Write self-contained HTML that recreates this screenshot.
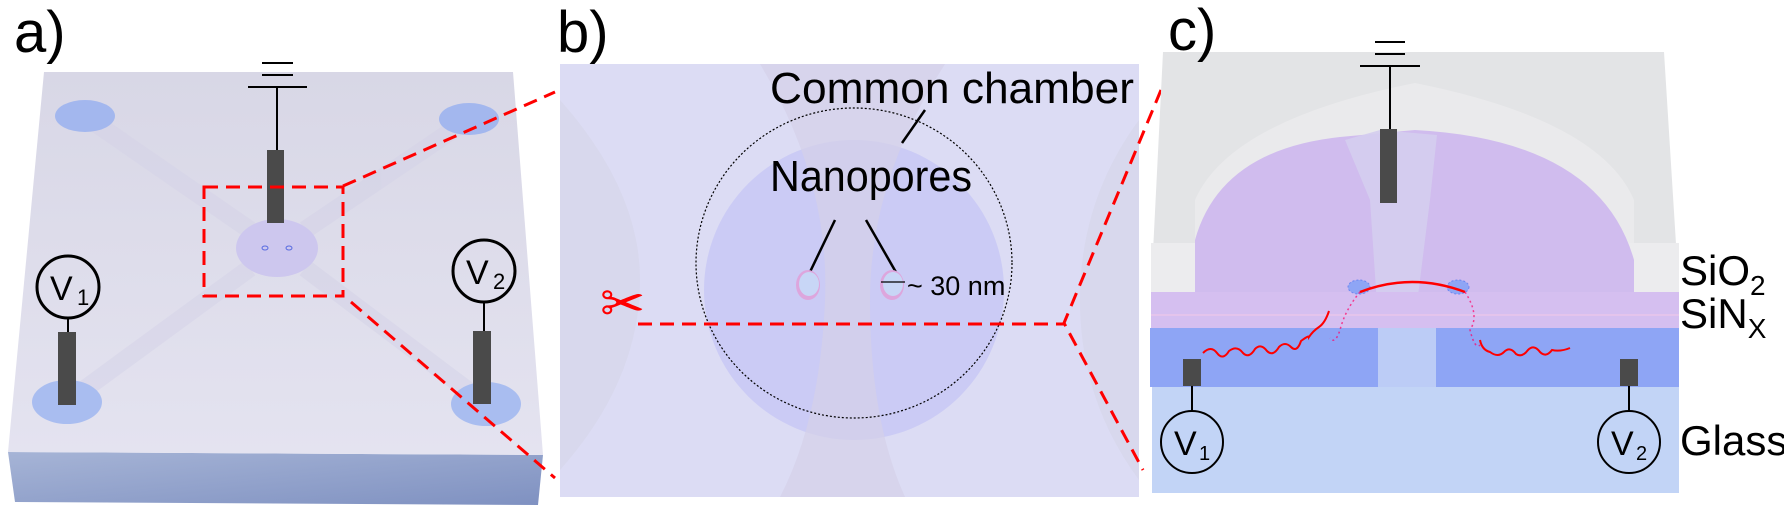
<!DOCTYPE html>
<html><head><meta charset="utf-8"><style>
html,body{margin:0;padding:0;background:#fff;}
svg{display:block;}
text{font-family:"Liberation Sans",sans-serif;fill:#000;}
</style></head><body>
<svg width="1784" height="514" viewBox="0 0 1784 514" xmlns="http://www.w3.org/2000/svg">
<defs>
<linearGradient id="front" x1="0" y1="0" x2="1" y2="1">
<stop offset="0" stop-color="#a6b4d6"/><stop offset="1" stop-color="#7f91c1"/></linearGradient>
<linearGradient id="top" x1="0" y1="0" x2="0" y2="1">
<stop offset="0" stop-color="#d8d7e6"/><stop offset="1" stop-color="#e4e3f0"/></linearGradient>
</defs>

<!-- Panel a -->
<text x="14" y="52" font-size="58">a)</text>
<polygon points="8,452 543,455 538,505 15,502" fill="url(#front)"/>
<polygon points="44,72 513,72 543,455 8,452" fill="url(#top)"/>
<g stroke="#d2d0e6" stroke-width="18" opacity="0.45" fill="none">
<line x1="85" y1="116" x2="250" y2="230"/>
<line x1="469" y1="119" x2="305" y2="230"/>
<line x1="67" y1="402" x2="250" y2="268"/>
<line x1="486" y1="404" x2="305" y2="268"/>
</g>
<ellipse cx="85" cy="116" rx="30" ry="16" fill="#a3b7ee"/>
<ellipse cx="469" cy="119" rx="30" ry="16" fill="#a3b7ee"/>
<ellipse cx="67" cy="402" rx="35" ry="22" fill="#a9bdf0"/>
<ellipse cx="486" cy="404" rx="35" ry="22" fill="#a9bdf0"/>
<ellipse cx="277" cy="248" rx="41" ry="29" fill="#cdc7ee"/>
<ellipse cx="265" cy="248" rx="3" ry="2" fill="none" stroke="#5a6ce0"/>
<ellipse cx="289" cy="248" rx="3" ry="2" fill="none" stroke="#5a6ce0"/>
<g stroke="#000" stroke-width="2">
<line x1="262" y1="63" x2="293" y2="63"/><line x1="262" y1="75" x2="293" y2="75"/>
<line x1="248" y1="87" x2="307" y2="87"/><line x1="277" y1="87" x2="277" y2="150"/>
<line x1="68" y1="318" x2="68" y2="332"/><line x1="484" y1="302" x2="484" y2="331"/>
</g>
<rect x="267" y="150" width="17" height="73" fill="#4a4a4a"/>
<rect x="58" y="332" width="18" height="73" fill="#4a4a4a"/>
<rect x="473" y="331" width="18" height="73" fill="#4a4a4a"/>
<circle cx="68" cy="287" r="31" fill="none" stroke="#000" stroke-width="3"/>
<text x="50" y="300" font-size="34">V</text><text x="77" y="305" font-size="22">1</text>
<circle cx="484" cy="271" r="31" fill="none" stroke="#000" stroke-width="3"/>
<text x="466" y="284" font-size="34">V</text><text x="493" y="289" font-size="22">2</text>
<g stroke="#f00" stroke-width="3" stroke-dasharray="14,8" fill="none">
<rect x="204" y="187" width="139" height="109"/>
<line x1="343" y1="186" x2="555" y2="92"/>
<line x1="351" y1="302" x2="555" y2="478"/>
</g>

<!-- Panel b -->
<text x="557" y="52" font-size="58">b)</text>
<rect x="560" y="64" width="579" height="433" fill="#dcdcf4"/>
<path d="M560,100 Q640,190 640,280 Q640,380 560,470 Z" fill="#d6d6e8" opacity="0.6"/>
<path d="M1139,120 Q1080,200 1080,300 Q1080,400 1139,480 Z" fill="#d6d6e8" opacity="0.6"/>
<ellipse cx="854" cy="290" rx="150" ry="150" fill="#cbcbf5"/>
<path d="M760,64 Q830,180 825,300 Q820,420 780,497 L905,497 Q870,420 870,300 Q870,180 945,64 Z" fill="#d4d0e8" opacity="0.7"/>
<ellipse cx="854" cy="263" rx="158" ry="155" fill="none" stroke="#000" stroke-width="1.2" stroke-dasharray="2,2"/>
<text x="770" y="103" font-size="44" textLength="364" lengthAdjust="spacingAndGlyphs">Common chamber</text>
<text x="770" y="191" font-size="44" textLength="202" lengthAdjust="spacingAndGlyphs">Nanopores</text>
<g stroke="#000" stroke-width="2.5">
<line x1="925" y1="110" x2="902" y2="143"/>
<line x1="835" y1="220" x2="809" y2="274"/>
<line x1="866" y1="220" x2="897" y2="274"/>
</g>
<ellipse cx="808" cy="285" rx="12" ry="15" fill="#dda6dd"/>
<ellipse cx="809" cy="284" rx="10" ry="12" fill="#c8d6f6"/>
<ellipse cx="892" cy="285" rx="12" ry="15" fill="#dda6dd"/>
<ellipse cx="893" cy="284" rx="10" ry="12" fill="#c8d6f6"/>
<line x1="881" y1="282" x2="905" y2="282" stroke="#000" stroke-width="1.2"/>
<text x="907" y="295" font-size="27">~ 30 nm</text>
<text x="600" y="322" font-size="54" style="fill:#f00">✂</text>
<g stroke="#f00" stroke-width="3" stroke-dasharray="14,8" fill="none">
<line x1="638" y1="324" x2="1064" y2="324"/>
<polyline points="1161,90 1064,323 1143,470"/>
</g>

<!-- Panel c -->
<rect x="1152" y="387" width="527" height="106" fill="#c2d4f6"/>
<polygon points="1163,52 1664,52 1679,292 1151,292" fill="#e3e4e6"/>
<path d="M1195,292 L1195,200 Q1230,120 1415,83 Q1600,120 1634,200 L1634,292 Z" fill="#eaeaec"/>
<rect x="1151" y="243" width="528" height="50" fill="#ececee"/>
<path d="M1195,292 L1195,240 Q1220,150 1340,137 L1415,130 Q1600,140 1634,260 L1634,292 Z" fill="#d0bcee"/>
<path d="M1345,140 L1380,130 L1437,135 L1430,200 L1415,320 L1378,320 L1370,200 Z" fill="#d4cdee" opacity="0.9"/>
<rect x="1151" y="292" width="528" height="36" fill="#d5bff0"/>
<line x1="1151" y1="315" x2="1679" y2="315" stroke="#e4c4ec" stroke-width="2"/>
<rect x="1150" y="328" width="529" height="59" fill="#8ea5f5"/>
<rect x="1378" y="328" width="58" height="59" fill="#bcccf6"/>
<g stroke="#000" stroke-width="2">
<line x1="1375" y1="42" x2="1405" y2="42"/><line x1="1375" y1="54" x2="1405" y2="54"/>
<line x1="1360" y1="66" x2="1420" y2="66"/><line x1="1390" y1="66" x2="1390" y2="130"/>
<line x1="1192" y1="386" x2="1192" y2="411"/><line x1="1629" y1="386" x2="1629" y2="411"/>
</g>
<rect x="1380" y="129" width="17" height="74" fill="#4a4a4a"/>
<rect x="1183" y="359" width="18" height="27" fill="#4a4a4a"/>
<rect x="1620" y="359" width="18" height="27" fill="#4a4a4a"/>
<ellipse cx="1192" cy="442" rx="31" ry="31" fill="none" stroke="#000" stroke-width="2"/>
<text x="1174" y="455" font-size="34">V</text><text x="1199" y="460" font-size="20">1</text>
<ellipse cx="1629" cy="442" rx="31" ry="31" fill="none" stroke="#000" stroke-width="2"/>
<text x="1611" y="455" font-size="34">V</text><text x="1636" y="460" font-size="20">2</text>
<ellipse cx="1359" cy="287" rx="11" ry="7" fill="#8ea5f5" stroke="#6d86f0" stroke-dasharray="2,2"/>
<ellipse cx="1458" cy="287" rx="11" ry="7" fill="#8ea5f5" stroke="#6d86f0" stroke-dasharray="2,2"/>
<path d="M1360,292 Q1412,272 1465,292" stroke="#f00" stroke-width="2.5" fill="none"/>
<path d="M1360,292 Q1345,310 1340,330 Q1335,345 1330,338" stroke="#f06" stroke-width="1.5" stroke-dasharray="2,3" fill="none" opacity="0.7"/>
<path d="M1465,292 Q1480,315 1470,330 Q1475,350 1480,345" stroke="#f06" stroke-width="1.5" stroke-dasharray="2,3" fill="none" opacity="0.7"/>
<path d="M1203,353 q8,-8 14,0 q6,8 12,-2 q8,-6 14,2 q6,6 12,-4 q6,-6 12,2 q6,6 12,-4 q6,-6 12,0 q6,6 10,-6 q8,-6 8,-4 q4,-6 10,-10 q6,-4 10,-16" stroke="#f00" stroke-width="2" fill="none"/>
<path d="M1480,340 q2,10 10,12 q8,6 14,0 q6,-6 12,2 q6,4 12,-4 q6,-6 12,2 q6,6 12,-2 q8,2 18,-2" stroke="#f00" stroke-width="2" fill="none"/>
<text x="1168" y="50" font-size="58">c)</text>
<text x="1680" y="285" font-size="42">SiO<tspan font-size="28" dy="10">2</tspan></text>
<text x="1680" y="328" font-size="42">SiN<tspan font-size="28" dy="10">X</tspan></text>
<text x="1680" y="455" font-size="42">Glass</text>
</svg>
</body></html>
